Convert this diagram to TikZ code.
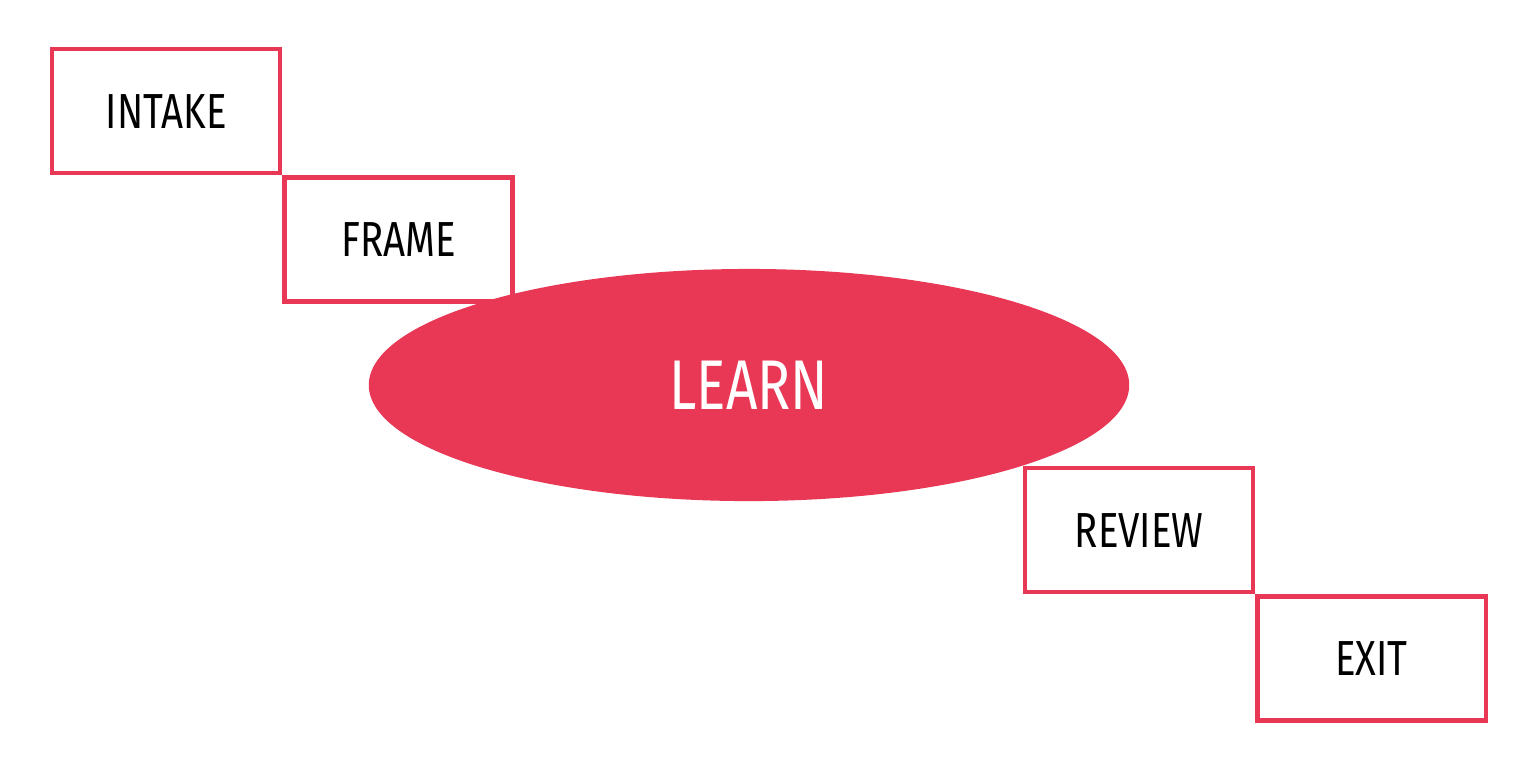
\documentclass[tikz,border=0pt]{standalone}
\usepackage{fontspec}
\setmainfont{Fira Sans}[FakeStretch=0.78]
\usetikzlibrary{positioning,shapes.geometric}
\definecolor{learnred}{HTML}{E93855}

\begin{document}
\begin{tikzpicture}[x=0.01cm,y=-0.01cm,
  stepbox/.style={rectangle, draw=learnred, line width=1.2pt, minimum width=2.28cm,
                  minimum height=1.24cm, inner sep=0pt, font=\fontsize{14}{16}\selectfont, text=black},
  core/.style={ellipse, fill=learnred, minimum width=7.6cm, minimum height=2.32cm,
               inner sep=0pt, font=\fontsize{20}{24}\selectfont, text=white}]
\useasboundingbox (0,0) rectangle (1536,759);

\node[stepbox, anchor=north west] (intake) at (50,47) {INTAKE};
\node[stepbox, anchor=north west] (frame) at (intake.south east) {FRAME};
\node[stepbox, anchor=north west] (review) at (1023,466) {REVIEW};
\node[stepbox, anchor=north west] (exit) at (review.south east) {EXIT};

% the learning core sits over the boxes
\node[core] (learn) at (749,385) {LEARN};
\end{tikzpicture}
\end{document}
